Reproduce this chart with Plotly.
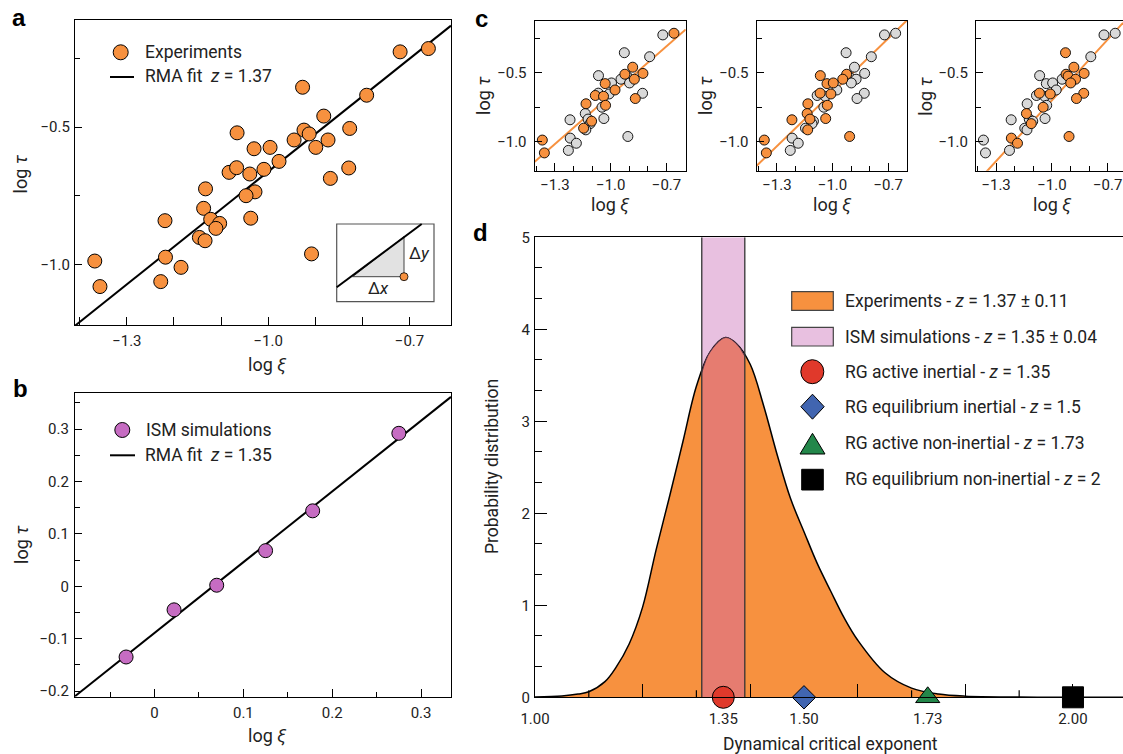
import numpy as np
import plotly.graph_objects as go

W, H = 1123, 754
FONT = "Roboto"
TXT = "#222222"
ORANGE = "#F7913F"
GRAY = "#D9D9D9"
PURPLE = "#C66CC2"
PINK = "#E8C0E0"
SALMON = "#E67C70"

# ---------------- data ----------------
exp_log_xi = [-0.720, -0.660, -0.927, -0.791, -0.882, -0.827, -0.924, -0.913, -0.945, -0.873,
              -1.066, -0.899, -1.030, -0.996, -0.977, -0.829, -0.868, -1.083, -1.067, -1.039,
              -1.009, -1.133, -1.028, -1.047, -1.137, -1.219, -1.122, -1.103, -1.111, -1.037,
              -1.146, -1.134, -0.908, -1.368, -1.218, -1.185, -1.357, -1.228]
exp_log_tau = [-0.226, -0.214, -0.355, -0.384, -0.460, -0.505, -0.511, -0.525, -0.547, -0.547,
               -0.521, -0.574, -0.579, -0.574, -0.625, -0.649, -0.687, -0.665, -0.648, -0.671,
               -0.654, -0.725, -0.736, -0.750, -0.796, -0.841, -0.836, -0.851, -0.869, -0.832,
               -0.902, -0.914, -0.962, -0.988, -0.974, -1.011, -1.081, -1.063]
exp_fit_slope = 1.37
exp_fit_intercept = 0.708

ism_log_xi = [-0.032, 0.022, 0.070, 0.125, 0.178, 0.275]
ism_log_tau = [-0.135, -0.045, 0.002, 0.068, 0.144, 0.292]
ism_fit_slope = 1.35
ism_fit_intercept = -0.089

# panel c: indices of highlighted (orange) subset in each resampling
subset_1 = [1, 4, 5, 6, 9, 12, 14, 16, 17, 19, 21, 22, 27, 30, 33, 36]
subset_2 = [6, 8, 10, 12, 13, 18, 20, 21, 22, 24, 25, 26, 29, 31, 32, 33, 36]
subset_3 = [2, 4, 5, 6, 7, 9, 11, 15, 16, 18, 20, 23, 24, 28, 32, 34, 35]
subset_slopes = [1.18, 1.30, 1.47]
subset_intercepts = [0.518, 0.658, 0.770]

# panel d
curve_z = [1.00, 1.05, 1.08, 1.10, 1.13, 1.15, 1.175, 1.20, 1.225, 1.25, 1.275, 1.30, 1.325,
           1.354, 1.375, 1.40, 1.425, 1.45, 1.475, 1.50, 1.525, 1.55, 1.575, 1.60, 1.65, 1.70,
           1.75, 1.80, 1.90, 2.00, 2.093]
curve_p = [0.003, 0.015, 0.035, 0.06, 0.17, 0.32, 0.58, 0.98, 1.60, 2.18, 2.78, 3.38, 3.75,
           3.91, 3.84, 3.62, 3.17, 2.64, 2.16, 1.80, 1.45, 1.15, 0.86, 0.62, 0.27, 0.10,
           0.035, 0.012, 0.003, 0.001, 0.0]
ism_z = 1.35
ism_err = 0.04
rg_z = [1.35, 1.50, 1.73, 2.00]
rg_symbols = ["circle", "diamond", "triangle-up", "square"]
rg_colors = ["#E0392B", "#4165B0", "#23874A", "#000000"]
rg_sizes = [22, 18, 21, 21]
legend_d = ["Experiments - <i>z</i> = 1.37 ± 0.11",
            "ISM simulations - <i>z</i> = 1.35 ± 0.04",
            "RG active inertial - <i>z</i> = 1.35",
            "RG equilibrium inertial - <i>z</i> = 1.5",
            "RG active non-inertial - <i>z</i> = 1.73",
            "RG equilibrium non-inertial - <i>z</i> = 2"]


def X(p):
    return p / W


def Y(p):
    return 1 - p / H


def dom_x(a, b):
    return [X(a), X(b)]


def dom_y(top, bottom):
    return [Y(bottom), Y(top)]


fig = go.Figure()

# ---------------- panel a ----------------
xr_a = [-1.410, -0.612]
yr_a = [-1.221, -0.110]
xa = np.array(xr_a)
fig.add_trace(go.Scatter(x=xa, y=exp_fit_slope * xa + exp_fit_intercept, mode="lines",
                         line=dict(color="black", width=2), xaxis="x", yaxis="y", hoverinfo="skip"))
fig.add_trace(go.Scatter(x=exp_log_xi, y=exp_log_tau, mode="markers",
                         marker=dict(size=14, color=ORANGE, opacity=1, line=dict(color="black", width=1)),
                         xaxis="x", yaxis="y"))

# ---------------- panel b ----------------
xr_b = [-0.0895, 0.3337]
yr_b = [-0.2108, 0.3695]
xb = np.array(xr_b)
fig.add_trace(go.Scatter(x=xb, y=ism_fit_slope * xb + ism_fit_intercept, mode="lines",
                         line=dict(color="black", width=2), xaxis="x2", yaxis="y2", hoverinfo="skip"))
fig.add_trace(go.Scatter(x=ism_log_xi, y=ism_log_tau, mode="markers",
                         marker=dict(size=14, color=PURPLE, opacity=1, line=dict(color="black", width=1)),
                         xaxis="x2", yaxis="y2"))

# ---------------- panel c ----------------
xr_c = [[-1.409, -0.597], [-1.409, -0.597], [-1.408, -0.618]]
yr_c = [-1.21, -0.123]
subsets = [subset_1, subset_2, subset_3]
for k in range(3):
    xid = "x%d" % (k + 3)
    yid = "y%d" % (k + 3)
    xc = np.array(xr_c[k])
    fig.add_trace(go.Scatter(x=xc, y=subset_slopes[k] * xc + subset_intercepts[k], mode="lines",
                             line=dict(color=ORANGE, width=2), xaxis=xid, yaxis=yid, hoverinfo="skip"))
    sel = set(subsets[k])
    gx = [v for i, v in enumerate(exp_log_xi) if i not in sel]
    gy = [v for i, v in enumerate(exp_log_tau) if i not in sel]
    ox = [exp_log_xi[i] for i in subsets[k]]
    oy = [exp_log_tau[i] for i in subsets[k]]
    fig.add_trace(go.Scatter(x=gx, y=gy, mode="markers",
                             marker=dict(size=10, color=GRAY, opacity=1, line=dict(color="black", width=0.9)),
                             xaxis=xid, yaxis=yid))
    fig.add_trace(go.Scatter(x=ox, y=oy, mode="markers",
                             marker=dict(size=10, color=ORANGE, opacity=1, line=dict(color="black", width=0.9)),
                             xaxis=xid, yaxis=yid))

# ---------------- panel d ----------------
fig.add_trace(go.Scatter(x=curve_z, y=curve_p, mode="lines", fill="tozeroy", fillcolor=ORANGE,
                         line=dict(color="black", width=1.5, shape="spline"),
                         xaxis="x6", yaxis="y6", hoverinfo="skip"))
band_lo, band_hi = ism_z - ism_err, ism_z + ism_err
zz = np.array(curve_z)
inside = zz[(zz > band_lo) & (zz < band_hi)]
bz = np.concatenate([[band_lo], inside, [band_hi]])
bp = np.interp(bz, curve_z, curve_p)
fig.add_trace(go.Scatter(x=bz, y=bp, mode="lines", fill="tozeroy", fillcolor=SALMON,
                         line=dict(color="#5A3550", width=1, shape="spline"),
                         xaxis="x6", yaxis="y6", hoverinfo="skip"))
for zv, sym, col, sz in zip(rg_z, rg_symbols, rg_colors, rg_sizes):
    fig.add_trace(go.Scatter(x=[zv], y=[0], mode="markers", cliponaxis=False, opacity=1,
                             marker=dict(symbol=sym, size=sz, color=col, opacity=1,
                                         line=dict(color="black", width=1)),
                             xaxis="x6", yaxis="y6"))


def axis(domain, rng, anchor, tickvals, ticktext, minor_vals=None, ticklen=7, minorlen=4,
         mirror=True, standoff=4, size=15):
    d = dict(domain=domain, range=rng, anchor=anchor, showline=True, linecolor="black",
             linewidth=1.3, mirror=mirror, ticks="inside", ticklen=ticklen, tickwidth=1.2,
             tickcolor="black", tickmode="array", tickvals=tickvals, ticktext=ticktext,
             showgrid=False, zeroline=False, fixedrange=True, automargin=False,
             tickfont=dict(family=FONT, size=size, color=TXT), ticklabelstandoff=standoff)
    if minor_vals:
        d["minor"] = dict(tickmode="array", tickvals=minor_vals, ticks="inside", ticklen=minorlen,
                          tickwidth=1.2, tickcolor="black", showgrid=False)
    return d


layout_axes = {}
# a
layout_axes["xaxis"] = axis(dom_x(75, 451), xr_a, "y", [-1.3, -1.0, -0.7], ["−1.3", "−1.0", "−0.7"],
                            [-1.4, -1.2, -1.1, -0.9, -0.8], ticklen=8, minorlen=8, standoff=2)
layout_axes["yaxis"] = axis(dom_y(20, 325), yr_a, "x", [-1.0, -0.5], ["−1.0", "−0.5"],
                            [-0.75, -0.25], ticklen=7, minorlen=5, standoff=1)
# b
layout_axes["xaxis2"] = axis(dom_x(75, 451), xr_b, "y2", [0, 0.1, 0.2, 0.3], ["0", "0.1", "0.2", "0.3"],
                             [-0.05, 0.05, 0.15, 0.25], ticklen=8, minorlen=5, standoff=2)
layout_axes["yaxis2"] = axis(dom_y(392.7, 696.7), yr_b, "x2", [-0.2, -0.1, 0, 0.1, 0.2, 0.3],
                             ["−0.2", "−0.1", "0", "0.1", "0.2", "0.3"],
                             [-0.15, -0.05, 0.05, 0.15, 0.25, 0.35], ticklen=7, minorlen=5, standoff=2)
# c
c_dom = [(534.7, 685.7), (756.7, 907.3), (976, 1123)]
for k in range(3):
    n = k + 3
    layout_axes["xaxis%d" % n] = axis(dom_x(*c_dom[k]), xr_c[k], "y%d" % n, [-1.3, -1.0, -0.7],
                                      ["−1.3", "−1.0", "−0.7"], [-1.4, -1.2, -1.1, -0.9, -0.8],
                                      ticklen=8, minorlen=5, standoff=0)
    layout_axes["yaxis%d" % n] = axis(dom_y(20.7, 170.7), yr_c, "x%d" % n, [-1.0, -0.5],
                                      ["−1.0", "−0.5"], [-0.75, -0.25], ticklen=7, minorlen=5,
                                      mirror=(k < 2), standoff=4)
# d
layout_axes["xaxis6"] = axis(dom_x(535, 1123), [1.0, 2.093], "y6", [1.0, 1.35, 1.5, 1.73, 2.0],
                             ["1.00", "1.35", "1.50", "1.73", "2.00"], [1.2, 1.4, 1.6, 1.8, 2.0],
                             ticklen=0, minorlen=13, standoff=8)
layout_axes["yaxis6"] = axis(dom_y(237.3, 697.3), [0, 5], "x6", [0, 1, 2, 3, 4, 5],
                             ["0", "1", "2", "3", "4", "5"],
                             [v / 3 for v in range(1, 15) if v % 3 != 0], ticklen=12, minorlen=7,
                             mirror=False, standoff=1)

shapes = []
# ism band
shapes.append(dict(type="rect", xref="x6", yref="y6", x0=band_lo, x1=band_hi, y0=0, y1=5,
                   fillcolor=PINK, line=dict(width=0), layer="below"))
for bx in (band_lo, band_hi):
    shapes.append(dict(type="line", xref="x6", yref="y6", x0=bx, x1=bx, y0=0, y1=5,
                       line=dict(color="#333333", width=1.3), layer="above"))
# short ticks d
for tv in [1.1, 1.3, 1.7, 1.9]:
    shapes.append(dict(type="line", xref="x6", yref="paper", x0=tv, x1=tv, y0=Y(697.3), y1=Y(690.3),
                       line=dict(color="black", width=1.2)))


def P(x, y):
    return "%f,%f" % (X(x), Y(y))


# panel a legend keys
shapes.append(dict(type="circle", xref="paper", yref="paper", x0=X(113.2), x1=X(128.2),
                   y0=Y(59.8), y1=Y(44.8), fillcolor=ORANGE, line=dict(color="black", width=1)))
shapes.append(dict(type="line", xref="paper", yref="paper", x0=X(110), x1=X(134), y0=Y(77), y1=Y(77),
                   line=dict(color="black", width=2)))
# panel a inset
shapes.append(dict(type="rect", xref="paper", yref="paper", x0=X(336.7), x1=X(434), y0=Y(301.7),
                   y1=Y(224), fillcolor="white", line=dict(color="#555555", width=1.2)))
shapes.append(dict(type="path", xref="paper", yref="paper",
                   path="M%s L%s L%s Z" % (P(352.7, 276.7), P(404, 236.7), P(404, 276.7)),
                   fillcolor="#E2E2E2", line=dict(color="#444444", width=1)))
shapes.append(dict(type="line", xref="paper", yref="paper", x0=X(336.7), x1=X(421.7), y0=Y(287.3),
                   y1=Y(224), line=dict(color="black", width=2)))
shapes.append(dict(type="circle", xref="paper", yref="paper", x0=X(400), x1=X(408), y0=Y(280.7),
                   y1=Y(272.7), fillcolor=ORANGE, line=dict(color="black", width=0.8)))
# panel b legend keys
shapes.append(dict(type="circle", xref="paper", yref="paper", x0=X(114.8), x1=X(129.8),
                   y0=Y(437.5), y1=Y(422.5), fillcolor=PURPLE, line=dict(color="black", width=1)))
shapes.append(dict(type="line", xref="paper", yref="paper", x0=X(110), x1=X(135), y0=Y(455.3),
                   y1=Y(455.3), line=dict(color="black", width=2)))
# panel d legend keys
rows = [301, 336.7, 371.7, 406.7, 442.7, 479.3]
shapes.append(dict(type="rect", xref="paper", yref="paper", x0=X(791.7), x1=X(833.3), y0=Y(310.3),
                   y1=Y(291.7), fillcolor=ORANGE, line=dict(color="#444444", width=1.2)))
shapes.append(dict(type="rect", xref="paper", yref="paper", x0=X(791.7), x1=X(833.3), y0=Y(346),
                   y1=Y(327.4), fillcolor=PINK, line=dict(color="#444444", width=1.2)))
shapes.append(dict(type="circle", xref="paper", yref="paper", x0=X(800.8), x1=X(823.8),
                   y0=Y(383.7), y1=Y(359.7), fillcolor=rg_colors[0], line=dict(color="black", width=1)))
shapes.append(dict(type="path", xref="paper", yref="paper",
                   path="M%s L%s L%s L%s Z" % (P(800.8, 406.7), P(812.5, 394.2), P(824.2, 406.7),
                                               P(812.5, 419.2)),
                   fillcolor=rg_colors[1], line=dict(color="black", width=1)))
shapes.append(dict(type="path", xref="paper", yref="paper",
                   path="M%s L%s L%s Z" % (P(800, 454), P(812.5, 433.3), P(825, 454)),
                   fillcolor=rg_colors[2], line=dict(color="black", width=1)))
shapes.append(dict(type="rect", xref="paper", yref="paper", x0=X(801.7), x1=X(823.3), y0=Y(490),
                   y1=Y(469.3), fillcolor=rg_colors[3], line=dict(color="black", width=1)))

ann = []


def text(x, y, s, size=16, xanchor="center", angle=0, bold=False, family=FONT):
    ann.append(dict(x=X(x), y=Y(y), xref="paper", yref="paper", text=("<b>%s</b>" % s) if bold else s,
                    showarrow=False, xanchor=xanchor, yanchor="middle", textangle=angle,
                    font=dict(family=family, size=size, color=TXT if not bold else "black")))


# panel letters
text(19, 17.5, "a", size=24, bold=True, family="Liberation Sans")
text(20, 388, "b", size=24, bold=True, family="Liberation Sans")
text(481, 18.5, "c", size=24, bold=True, family="Liberation Sans")
text(480.5, 232.5, "d", size=24, bold=True, family="Liberation Sans")
# a
text(142.7, 52.3, "Experiments", size=17.5, xanchor="left")
text(142.7, 76.5, "RMA fit  <i>z</i> = 1.37", size=17.5, xanchor="left")
text(267, 365, "log <i>ξ</i>", size=18)
text(19.5, 174, "log <i>τ</i>", size=18, angle=-90)
text(419, 253, "Δ<i>y</i>", size=17)
text(378.3, 288.5, "Δ<i>x</i>", size=17)
# b
text(143.7, 430, "ISM simulations", size=17.5, xanchor="left")
text(142.7, 455.3, "RMA fit  <i>z</i> = 1.35", size=17.5, xanchor="left")
text(267, 735, "log <i>ξ</i>", size=18)
text(21, 545, "log <i>τ</i>", size=18, angle=-90)
# c
for cx, lx in [(610.2, 484), (832, 706), (1051.5, 925.7)]:
    text(cx, 204, "log <i>ξ</i>", size=18)
    text(lx, 96, "log <i>τ</i>", size=18, angle=-90)
# d
text(830, 744, "Dynamical critical exponent", size=17.5)
text(492, 467, "Probability distribution", size=17.5, angle=-90)
for r, s in zip(rows, legend_d):
    text(843.3, r, s, size=17.5, xanchor="left")

fig.update_layout(width=W, height=H, margin=dict(l=0, r=0, t=0, b=0, autoexpand=False),
                  showlegend=False,
                  paper_bgcolor="white", plot_bgcolor="white", shapes=shapes, annotations=ann,
                  font=dict(family=FONT, color=TXT), **layout_axes)

fig.write_html("out.html", config={"displayModeBar": False},
               post_script="document.body.style.margin='0px';document.body.style.padding='0px';")
